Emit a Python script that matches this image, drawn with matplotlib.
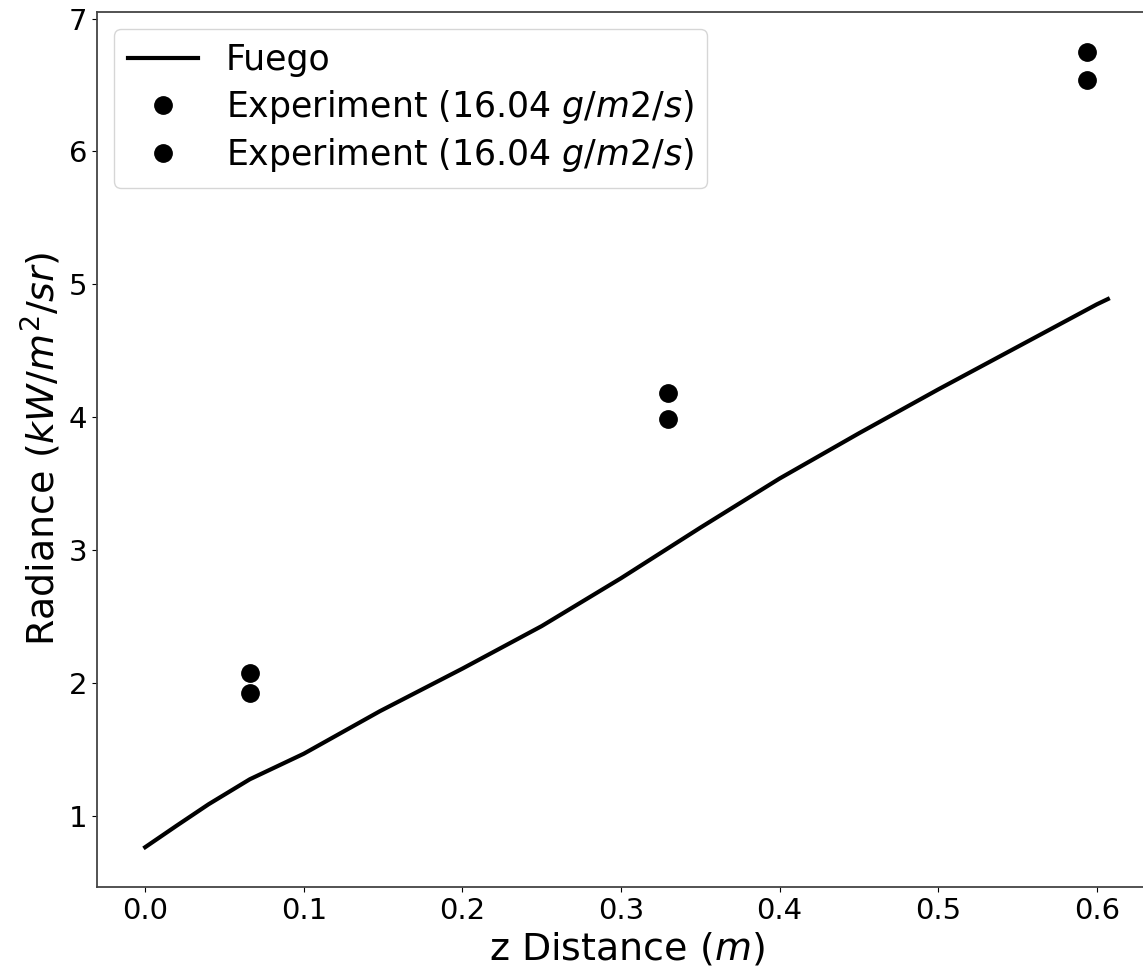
import matplotlib
matplotlib.use("Agg")
import matplotlib.pyplot as plt

# Fuego model line
fuego_x = [0.0, 0.02, 0.04, 0.066, 0.1, 0.148, 0.2, 0.25, 0.3, 0.35, 0.4, 0.45, 0.5, 0.55, 0.6, 0.607]
fuego_y = [0.767, 0.93, 1.09, 1.278, 1.47, 1.79, 2.11, 2.43, 2.79, 3.17, 3.54, 3.88, 4.21, 4.53, 4.85, 4.89]

# Experiment series
exp_x = [0.066, 0.3296, 0.5936]
exp1_y = [2.075, 4.18, 6.75]
exp2_y = [1.925, 3.99, 6.54]

labels = ["Fuego", "Experiment (16.04 $g/m2/s$)", "Experiment (16.04 $g/m2/s$)"]

fig = plt.figure(figsize=(11.43, 9.75), dpi=100)
ax = fig.add_axes([0.0849, 0.0903, 1.0114 - 0.0849, 0.8974])

ax.plot(fuego_x, fuego_y, color="black", lw=3.0, label=labels[0])
ax.plot(exp_x, exp1_y, "o", color="black", ms=12.5, label=labels[1])
ax.plot(exp_x, exp2_y, "o", color="black", ms=12.5, label=labels[2])

ax.set_xlabel("z Distance ($m$)", fontsize=27.4)
ax.set_ylabel("Radiance ($kW/m^2/sr$)", fontsize=27.4)
ax.tick_params(labelsize=21)
for s in ax.spines.values():
    s.set_color("#444444")
    s.set_linewidth(1.3)

ax.legend(loc="upper left", fontsize=25, frameon=True, labelspacing=0.3)

fig.savefig("out.png", dpi=100)
